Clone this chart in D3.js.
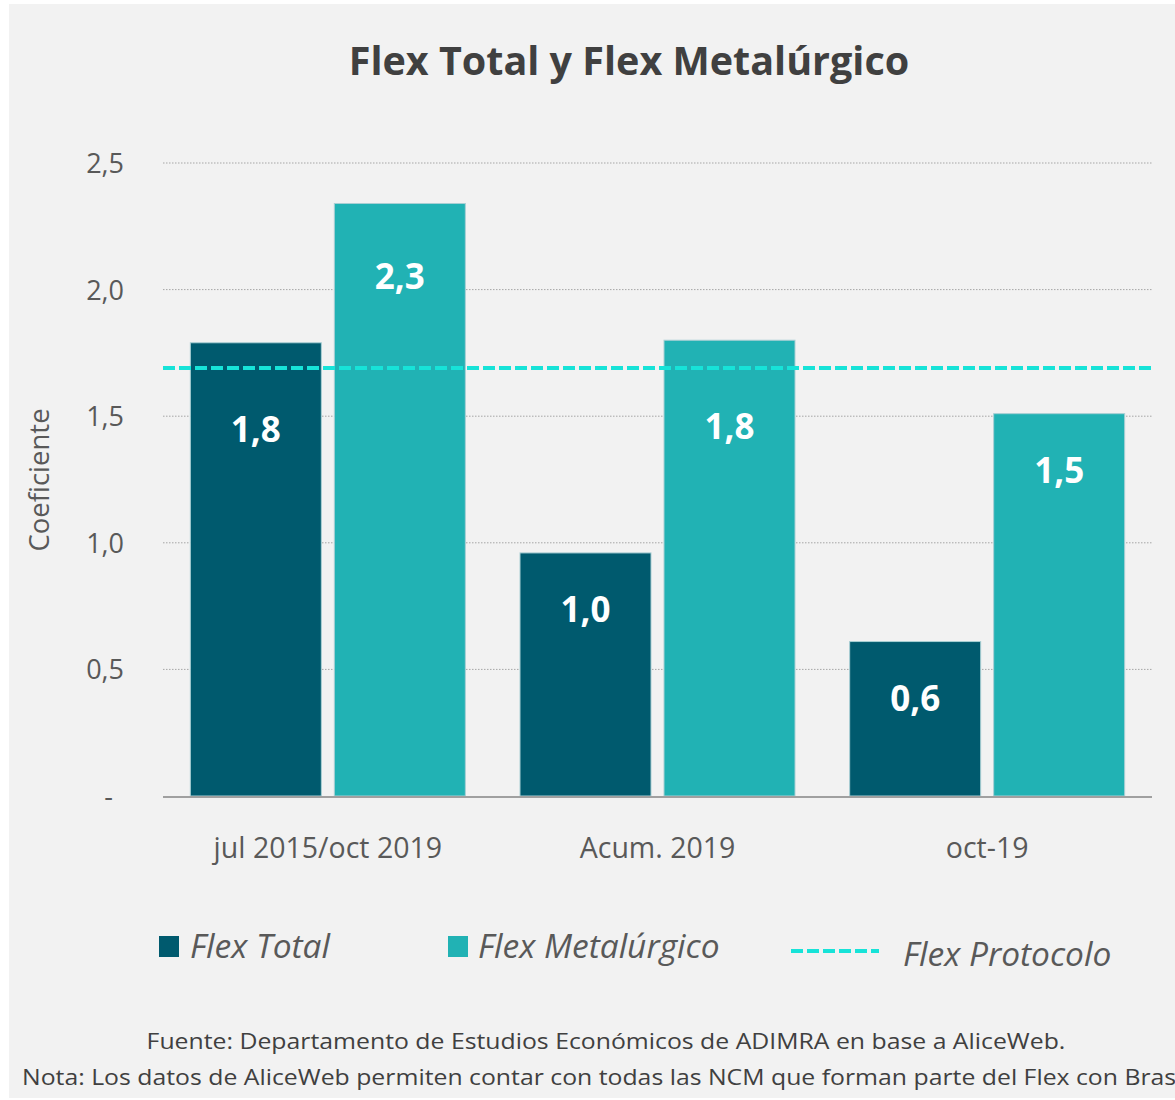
<!DOCTYPE html>
<html>
<head>
<meta charset="utf-8">
<script src="https://cdn.jsdelivr.net/npm/d3@7"></script>
<style>
body { margin: 0; background: #ffffff; }
svg { display: block; }
</style>
</head>
<body>
<div id="chart"><svg></svg></div>
<script>
var categories = ["jul 2015/oct 2019", "Acum. 2019", "oct-19"];
var series = ["Flex Total", "Flex Metalúrgico"];
var flexTotal = [1.79, 0.96, 0.61];
var flexMetal = [2.34, 1.80, 1.51];
var flexProtocolo = 1.69;
var yTicks = [0, 0.5, 1.0, 1.5, 2.0, 2.5];
var colors = ["#005a6e", "#21b2b4"];
var lineColor = "#17e3d8";

var width = 1175, height = 1100;
var svg = d3.select("#chart").select("svg")
	.attr("width", width)
	.attr("height", height);

svg.append("rect")
	.attr("x", 9)
	.attr("y", 4)
	.attr("width", width - 9)
	.attr("height", 1094)
	.style("fill", "#f2f2f2");

var p_left = 163, p_right = 1152, p_top = 163, p_bottom = 796;
var fmt = function(v) { return d3.format(".1f")(v).replace(".", ","); };

var x = d3.scaleBand()
	.domain(categories)
	.range([p_left, p_right])
	.paddingInner(0)
	.paddingOuter(0);
var y = d3.scaleLinear()
	.domain([0, 2.5])
	.range([p_bottom, p_top]);
var barWidth = 131, gap = 13;

// title
svg.append("text")
	.attr("x", 629)
	.attr("y", 75)
	.attr("text-anchor", "middle")
	.style("font-family", "Open Sans")
	.style("font-weight", "bold")
	.style("font-size", "39.5px")
	.style("fill", "#404040")
	.text("Flex Total y Flex Metalúrgico");

// grid
svg.selectAll(".grid")
	.data(yTicks.filter(function(d) { return d > 0; }))
	.enter()
	.append("line")
	.attr("class", "grid")
	.attr("x1", p_left)
	.attr("x2", p_right)
	.attr("y1", function(d) { return y(d); })
	.attr("y2", function(d) { return y(d); })
	.style("stroke", "#a6a6a6")
	.style("stroke-width", 1)
	.style("stroke-dasharray", "1.5,1.5");

// y axis labels
var yAxis = d3.axisLeft(y)
	.tickValues(yTicks)
	.tickSize(0)
	.tickPadding(0)
	.tickFormat(function(d) { return d == 0 ? "-" : fmt(d); });
var gy = svg.append("g")
	.attr("transform", "translate(124,0)")
	.call(yAxis);
gy.select(".domain").remove();
gy.selectAll("text")
	.style("font-family", "Open Sans")
	.style("font-size", "27px")
	.style("fill", "#595959")
	.attr("dy", "0.35em");
gy.selectAll(".tick").filter(function(d) { return d == 0; })
	.select("text")
	.attr("x", -11);

svg.append("text")
	.attr("transform", "translate(49,480) rotate(-90)")
	.attr("text-anchor", "middle")
	.style("font-family", "Open Sans")
	.style("font-size", "27.5px")
	.style("fill", "#595959")
	.text("Coeficiente");

// bars
var rows = categories.map(function(c, i) {
	return [{ cat: c, s: 0, v: flexTotal[i] }, { cat: c, s: 1, v: flexMetal[i] }];
});
var flat = [].concat.apply([], rows);
var barX = function(d) {
	var c = x(d.cat) + x.bandwidth() / 2;
	return d.s == 0 ? c - gap / 2 - barWidth : c + gap / 2;
};

svg.selectAll(".bar")
	.data(flat)
	.enter()
	.append("rect")
	.attr("class", "bar")
	.attr("x", barX)
	.attr("y", function(d) { return y(d.v); })
	.attr("width", barWidth)
	.attr("height", function(d) { return p_bottom - y(d.v); })
	.style("fill", function(d) { return colors[d.s]; })
	.style("stroke", "#a9cfd4")
	.style("stroke-width", 1);

svg.selectAll(".lbl")
	.data(flat)
	.enter()
	.append("text")
	.attr("class", "lbl")
	.attr("x", function(d) { return barX(d) + barWidth / 2; })
	.attr("y", function(d) {
		var h = p_bottom - y(d.v);
		var off = h > 560 ? 72 : (h > 420 ? 86 : 56);
		return y(d.v) + off + 13;
	})
	.attr("text-anchor", "middle")
	.style("font-family", "Open Sans")
	.style("font-weight", "bold")
	.style("font-size", "35px")
	.style("fill", "#ffffff")
	.text(function(d) { return fmt(d.v); });

// baseline
svg.append("line")
	.attr("x1", p_left)
	.attr("x2", p_right)
	.attr("y1", p_bottom + 1)
	.attr("y2", p_bottom + 1)
	.style("stroke", "#a0a0a0")
	.style("stroke-width", 2);

// protocolo line
svg.append("line")
	.attr("x1", p_left)
	.attr("x2", p_right)
	.attr("y1", y(flexProtocolo))
	.attr("y2", y(flexProtocolo))
	.style("stroke", lineColor)
	.style("stroke-width", 4)
	.style("stroke-dasharray", "12,4");

// x axis labels
var xAxis = d3.axisBottom(x).tickSize(0).tickPadding(0);
var gx = svg.append("g")
	.attr("transform", "translate(0,858)")
	.call(xAxis);
gx.select(".domain").remove();
gx.selectAll("text")
	.attr("dy", 0)
	.style("font-family", "Open Sans")
	.style("font-size", "28.5px")
	.style("fill", "#595959");

// legend
var legend = [
	{ name: series[0], sx: 159, tx: 190 },
	{ name: series[1], sx: 448, tx: 478 }
];
svg.selectAll(".lsq")
	.data(legend)
	.enter()
	.append("rect")
	.attr("x", function(d) { return d.sx; })
	.attr("y", 936)
	.attr("width", 20)
	.attr("height", 21)
	.style("fill", function(d, i) { return colors[i]; });
svg.selectAll(".ltx")
	.data(legend)
	.enter()
	.append("text")
	.attr("x", function(d) { return d.tx; })
	.attr("y", 958)
	.style("font-family", "Open Sans")
	.style("font-style", "italic")
	.style("font-size", "33.5px")
	.style("fill", "#595959")
	.text(function(d) { return d.name; });

svg.append("line")
	.attr("x1", 791)
	.attr("x2", 879)
	.attr("y1", 951)
	.attr("y2", 951)
	.style("stroke", lineColor)
	.style("stroke-width", 4)
	.style("stroke-dasharray", "12,4");
svg.append("text")
	.attr("x", 903)
	.attr("y", 966)
	.style("font-family", "Open Sans")
	.style("font-style", "italic")
	.style("font-size", "33.5px")
	.style("fill", "#595959")
	.text("Flex Protocolo");

// notes
var n1 = svg.append("text")
	.attr("x", 606)
	.attr("y", 1049)
	.attr("text-anchor", "middle")
	.style("font-family", "Open Sans")
	.style("font-size", "22px")
	.style("fill", "#404040")
	.text("Fuente: Departamento de Estudios Económicos de ADIMRA en base a AliceWeb.");
var n2 = svg.append("text")
	.attr("x", 22)
	.attr("y", 1085)
	.style("font-family", "Open Sans")
	.style("font-size", "22px")
	.style("fill", "#404040")
	.text("Nota: Los datos de AliceWeb permiten contar con todas las NCM que forman parte del Flex con Brasil.");
var k = 919 / n1.node().getComputedTextLength();
n1.attr("transform", "translate(606,0) scale(" + k + ",1) translate(-606,0)");
n2.attr("transform", "translate(22,0) scale(" + k + ",1) translate(-22,0)");
</script>
</body>
</html>
